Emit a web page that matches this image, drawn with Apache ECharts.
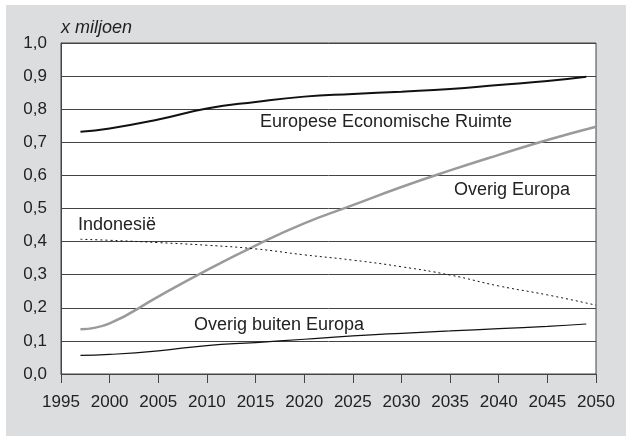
<!DOCTYPE html>
<html>
<head>
<meta charset="utf-8">
<script src="https://cdn.jsdelivr.net/npm/echarts@6/dist/echarts.min.js"></script>
<style>
  html, body { margin: 0; padding: 0; background: #fff; }
  #chart { width: 626px; height: 436px; }
</style>
</head>
<body>
<div id="chart"></div>
<script>
// years
var years = [1997, 2000, 2005, 2010, 2015, 2020, 2025, 2030, 2035, 2040, 2045, 2049]
var yearsIndo = [1997, 2000, 2005, 2010, 2015, 2020, 2025, 2030, 2035, 2040, 2045, 2050]
var yearsOE = [1997, 2000, 2005, 2010, 2015, 2020, 2025, 2030, 2035, 2040, 2045, 2050]

var eer = [0.732, 0.742, 0.769, 0.802, 0.822, 0.838, 0.846, 0.853, 0.861, 0.873, 0.885, 0.898]
var overigEuropa = [0.135, 0.153, 0.234, 0.314, 0.388, 0.455, 0.51, 0.565, 0.615, 0.662, 0.707, 0.747]
var indonesie = [0.407, 0.404, 0.397, 0.389, 0.378, 0.36, 0.344, 0.324, 0.299, 0.266, 0.239, 0.208]
var buitenEuropa = [0.056, 0.059, 0.07, 0.086, 0.095, 0.105, 0.115, 0.123, 0.13, 0.137, 0.144, 0.151]

function pairs(xs, ys) {
  return xs.map(function (x, i) { return [x, ys[i]] })
}

var font = 'Liberation Sans, Arial, sans-serif'
var chart = echarts.init(document.getElementById('chart'))

chart.setOption({
  animation: false,
  grid: {
    left: 61,
    right: 30,
    top: 43,
    bottom: 62,
    show: true,
    backgroundColor: '#fff',
    borderColor: '#444',
    borderWidth: 1
  },
  graphic: [
    {
      type: 'rect',
      z: -10,
      silent: true,
      shape: { x: 6, y: 5, width: 620, height: 431 },
      style: { fill: '#dcdddf' }
    },
    {
      type: 'text', left: 61, top: 19,
      style: { text: 'x miljoen', font: 'italic 18px ' + font, fill: '#222' }
    },
    {
      type: 'text', left: 260, top: 113,
      style: { text: 'Europese Economische Ruimte', font: '18px ' + font, fill: '#222' }
    },
    {
      type: 'text', left: 454, top: 181,
      style: { text: 'Overig Europa', font: '18px ' + font, fill: '#222' }
    },
    {
      type: 'text', left: 78, top: 216,
      style: { text: 'Indonesië', font: '18px ' + font, fill: '#222' }
    },
    {
      type: 'text', left: 194, top: 316,
      style: { text: 'Overig buiten Europa', font: '18px ' + font, fill: '#222' }
    }
  ],
  xAxis: {
    type: 'value',
    min: 1995,
    max: 2050,
    interval: 5,
    axisLine: { show: true, lineStyle: { color: '#444' } },
    axisTick: { show: true, inside: false, length: 9, lineStyle: { color: '#444' } },
    axisLabel: {
      color: '#222', fontSize: 17, fontFamily: font, margin: 20,
      formatter: function (v) { return String(v) }
    },
    splitLine: { show: false }
  },
  yAxis: {
    type: 'value',
    min: 0,
    max: 1,
    interval: 0.1,
    axisLine: { show: true, lineStyle: { color: '#444' } },
    axisTick: { show: false },
    axisLabel: {
      color: '#222', fontSize: 17, fontFamily: font, margin: 14,
      formatter: function (v) { return v.toFixed(1).replace('.', ',') }
    },
    splitLine: { show: true, lineStyle: { color: '#444', width: 1 } }
  },
  series: [
    {
      name: 'Europese Economische Ruimte',
      type: 'line',
      data: pairs(years, eer),
      smooth: true,
      symbol: 'none',
      lineStyle: { color: '#111', width: 2 }
    },
    {
      name: 'Overig Europa',
      type: 'line',
      data: pairs(yearsOE, overigEuropa),
      smooth: true,
      symbol: 'none',
      lineStyle: { color: '#9a9a9a', width: 2.5 }
    },
    {
      name: 'Indonesië',
      type: 'line',
      data: pairs(yearsIndo, indonesie),
      smooth: true,
      symbol: 'none',
      lineStyle: { color: '#111', width: 1, type: [2, 3] }
    },
    {
      name: 'Overig buiten Europa',
      type: 'line',
      data: pairs(years, buitenEuropa),
      smooth: true,
      symbol: 'none',
      lineStyle: { color: '#111', width: 1.2 }
    }
  ]
})
</script>
</body>
</html>
